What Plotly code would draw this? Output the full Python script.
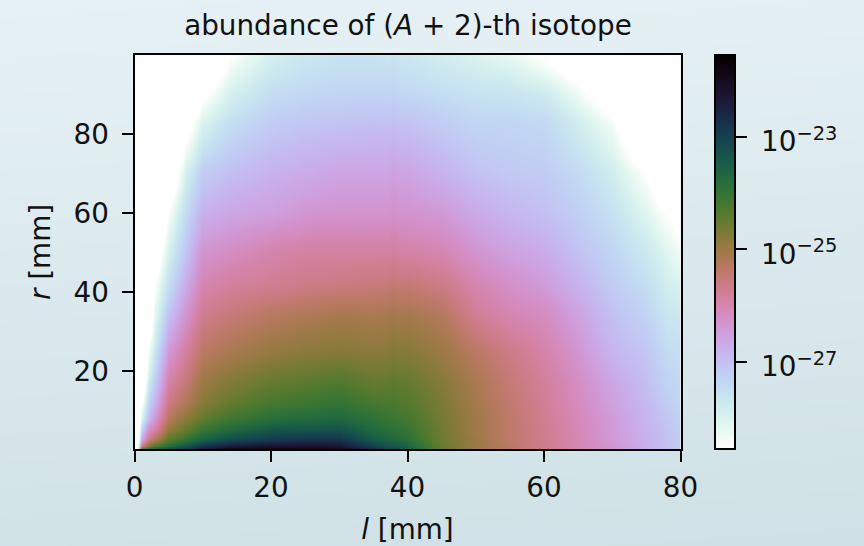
import math
import numpy as np
import plotly.graph_objects as go

title_text = "abundance of (<i>A</i> + 2)-th isotope"
x_ticks = [0, 20, 40, 60, 80]
y_ticks = [20, 40, 60, 80]
cb_ticks = [-27, -25, -23]
cb_labels = ["10<sup>−27</sup>", "10<sup>−25</sup>", "10<sup>−23</sup>"]

r_mm = [0.25, 1, 2.5, 5, 8, 12, 17, 25, 34, 42, 51, 60, 71, 83, 91, 100]
l_mm = [0, 1, 2, 3, 5, 7.5, 10, 14, 20, 25, 30, 35, 37.4, 38, 38.6, 40, 45, 50, 55, 60, 65, 70, 75, 78, 80]

# log10 abundance, one list per l column (rows follow r_mm)
c00 = [-31.0, -31.0, -31.0, -31.0, -31.0, -31.0, -31.0, -31.0, -31.0, -31.0, -31.0, -31.0, -31.0, -31.0, -31.0, -31.0]
c01 = [-24.2, -25.6, -26.6, -27.3, -28.0, -28.6, -29.5, -30.5, -31.0, -31.0, -31.0, -31.0, -31.0, -31.0, -31.0, -31.0]
c02 = [-24.0, -24.7, -25.6, -26.2, -26.9, -27.3, -27.75, -28.4, -29.5, -30.5, -31.0, -31.0, -31.0, -31.0, -31.0, -31.0]
c03 = [-23.4, -24.3, -25.2, -25.9, -26.4, -26.8, -27.2, -27.7, -28.2, -28.55, -29.3, -30.0, -31.0, -31.0, -31.0, -31.0]
c05 = [-23.1, -23.8, -24.4, -24.9, -25.3, -25.6, -25.9, -26.4, -27.0, -27.5, -27.95, -28.45, -29.5, -30.5, -31.0, -31.0]
c07 = [-22.9, -23.3, -23.95, -24.5, -24.85, -25.2, -25.5, -25.85, -26.3, -26.7, -27.1, -27.45, -27.95, -29.0, -30.0, -31.0]
c10 = [-22.4, -22.8, -23.5, -24.05, -24.5, -24.8, -25.0, -25.35, -25.7, -26.0, -26.35, -26.75, -27.25, -28.0, -28.75, -30.0]
c14 = [-21.85, -22.4, -23.1, -23.7, -24.15, -24.5, -24.75, -25.15, -25.5, -25.85, -26.2, -26.6, -27.0, -27.5, -27.95, -28.55]
c20 = [-21.7, -22.2, -22.85, -23.35, -23.85, -24.2, -24.5, -24.95, -25.3, -25.75, -26.0, -26.5, -26.8, -27.2, -27.5, -27.9]
c25 = [-21.75, -22.2, -22.75, -23.3, -23.75, -24.1, -24.4, -24.85, -25.2, -25.65, -25.9, -26.35, -26.7, -27.1, -27.4, -27.7]
c30 = [-22.0, -22.3, -22.75, -23.25, -23.7, -24.0, -24.3, -24.8, -25.1, -25.6, -25.9, -26.3, -26.6, -27.05, -27.35, -27.6]
c35 = [-22.7, -23.0, -23.4, -23.72, -23.95, -24.2, -24.5, -24.85, -25.15, -25.55, -25.9, -26.3, -26.6, -27.0, -27.35, -27.6]
c374 = [-23.05, -23.3, -23.62, -23.88, -24.07, -24.27, -24.47, -24.82, -25.12, -25.52, -25.92, -26.3, -26.6, -27.02, -27.37, -27.65]
c38 = [-23.07, -23.3, -23.62, -23.87, -24.05, -24.22, -24.41, -24.75, -25.05, -25.45, -25.85, -26.22, -26.52, -26.95, -27.3, -27.58]
c386 = [-23.2, -23.42, -23.72, -23.97, -24.15, -24.33, -24.47, -24.82, -25.12, -25.52, -25.93, -26.3, -26.6, -27.04, -27.39, -27.68]
c40 = [-23.4, -23.6, -23.85, -24.05, -24.2, -24.35, -24.5, -24.8, -25.1, -25.5, -25.95, -26.3, -26.6, -27.05, -27.4, -27.7]
c45 = [-24.55, -24.55, -24.6, -24.62, -24.65, -24.7, -24.8, -25.0, -25.25, -25.65, -26.05, -26.4, -26.8, -27.2, -27.5, -27.85]
c50 = [-25.0, -25.0, -25.0, -25.05, -25.05, -25.1, -25.15, -25.35, -25.75, -26.0, -26.35, -26.65, -27.05, -27.35, -27.6, -28.0]
c55 = [-25.35, -25.35, -25.4, -25.4, -25.4, -25.45, -25.5, -25.65, -26.0, -26.25, -26.55, -26.85, -27.15, -27.35, -27.65, -28.2]
c60 = [-25.7, -25.7, -25.7, -25.72, -25.75, -25.78, -25.82, -25.95, -26.15, -26.45, -26.7, -27.0, -27.2, -27.4, -27.8, -28.65]
c65 = [-26.05, -26.05, -26.05, -26.07, -26.1, -26.15, -26.2, -26.35, -26.55, -26.8, -27.05, -27.25, -27.45, -27.85, -28.35, -29.3]
c70 = [-26.35, -26.35, -26.4, -26.43, -26.45, -26.52, -26.6, -26.85, -27.0, -27.2, -27.35, -27.55, -27.85, -28.4, -29.2, -30.5]
c75 = [-26.75, -26.75, -26.78, -26.8, -26.85, -26.9, -26.98, -27.1, -27.3, -27.5, -27.75, -28.1, -28.6, -30.0, -31.0, -31.0]
c78 = [-27.0, -27.0, -27.02, -27.05, -27.1, -27.2, -27.3, -27.45, -27.65, -27.85, -28.1, -28.55, -29.5, -31.0, -31.0, -31.0]
c80 = [-27.2, -27.2, -27.22, -27.25, -27.3, -27.35, -27.4, -27.5, -27.7, -28.0, -28.4, -28.9, -30.0, -31.0, -31.0, -31.0]

columns = [c00, c01, c02, c03, c05, c07, c10, c14, c20, c25, c30, c35, c374, c38, c386, c40, c45,
           c50, c55, c60, c65, c70, c75, c78, c80]
z_log = np.array(columns).T.tolist()


def cubehelix_r(n=64):
    stops = []
    for i in range(n + 1):
        t = i / n
        x = 1 - t
        a = x * (1 - x) / 2
        phi = 2 * math.pi * (0.5 / 3 - 1.5 * x)
        c, s = math.cos(phi), math.sin(phi)
        rgb = [x + a * (-0.14861 * c + 1.78277 * s),
               x + a * (-0.29227 * c - 0.90649 * s),
               x + a * (1.97294 * c)]
        rgb = [int(round(255 * min(1, max(0, v)))) for v in rgb]
        stops.append([t, f"rgb({rgb[0]},{rgb[1]},{rgb[2]})"])
    return stops


W, H = 864, 546
FONT = "DejaVu Sans"
INK = "#000000"
TXT = "#111111"
FS = 27.8

fig = go.Figure()

# page background gradient
fig.add_trace(go.Heatmap(
    x=[0, 1], y=[0, 1], z=[[0.9, 1.0], [0.0, 0.1]], zsmooth="best", showscale=False,
    colorscale=[[0, "#e6f1f5"], [1, "#cfe1e6"]], hoverinfo="skip",
    xaxis="x", yaxis="y", zmin=0, zmax=1,
))

fig.add_trace(go.Heatmap(
    x=l_mm, y=r_mm, z=z_log, zsmooth="best", zmin=-28.55, zmax=-21.55,
    colorscale=cubehelix_r(), xaxis="x2", yaxis="y2",
    colorbar=dict(
        x=715 / W, xanchor="left", y=1 - 449 / H, yanchor="bottom",
        len=394 / H, lenmode="fraction", thickness=20, thicknessmode="pixels",
        outlinecolor=INK, outlinewidth=2, borderwidth=0, xpad=0, ypad=0,
        tickmode="array", tickvals=cb_ticks, ticktext=cb_labels,
        ticks="outside", ticklen=11, tickwidth=2, tickcolor=INK,
        tickfont=dict(family=FONT, size=FS, color=TXT),
    ),
))

hidden = dict(visible=False, fixedrange=True, range=[0, 1], domain=[0, 1])
axis_common = dict(
    showgrid=False, zeroline=False, showline=True, linecolor=INK, linewidth=2, mirror=True,
    ticks="outside", ticklen=11, tickwidth=2, tickcolor=INK, tickmode="array",
    tickfont=dict(family=FONT, size=FS, color=TXT),
)
fig.update_layout(
    width=W, height=H, margin=dict(l=0, r=0, t=0, b=0, autoexpand=False),
    paper_bgcolor="#dbe9ed", plot_bgcolor="white",
    font=dict(family=FONT, color=TXT),
    title=dict(text=title_text, x=408 / W, xanchor="center", y=1 - 25 / H, yanchor="middle",
               font=dict(family=FONT, size=FS, color=TXT)),
    xaxis=hidden, yaxis=hidden,
    xaxis2=dict(axis_common, domain=[134.5 / W, 680.5 / W], range=[0, 80], tickvals=x_ticks,
                anchor="y2", ticklabelstandoff=2,
                title=dict(text="<i>l</i> [mm]", standoff=16,
                           font=dict(family=FONT, size=FS, color=TXT))),
    yaxis2=dict(axis_common, domain=[1 - 449 / H, 1 - 55 / H], range=[0.25, 100], tickvals=y_ticks,
                anchor="x2", ticklabelstandoff=7,
                title=dict(text="<i>r</i> [mm]", standoff=15,
                           font=dict(family=FONT, size=FS, color=TXT))),
)
nudge = """
document.body.style.margin='0';
document.querySelectorAll('.cbaxis text, .colorbar .ticks text, .colorbar .tick text').forEach(function(t){
  if(t.dataset.nudged){return;}
  t.dataset.nudged='1';
  var a=t.getAttribute('transform')||'';
  t.setAttribute('transform', 'translate(9,5) '+a);
});
"""
fig.write_html("out.html", post_script=nudge, config={"displayModeBar": False})
